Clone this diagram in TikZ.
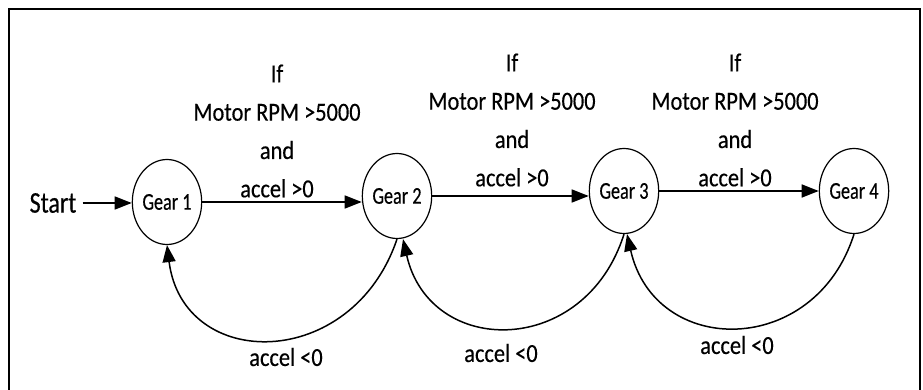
\documentclass[tikz,border=0pt]{standalone}
\usepackage{fontspec}
\setmainfont{Carlito}
\newfontfamily\labfont{Carlito}[FakeStretch=0.86,FakeBold=0.4]
\newfontfamily\gearfont{Carlito}[FakeStretch=0.76,FakeBold=0.4]
\newfontfamily\startfont{Carlito}[FakeStretch=0.8,FakeBold=0.4]
\usetikzlibrary{arrows.meta,shapes.geometric}
\begin{document}
\begin{tikzpicture}[x=1pt,y=-1pt,
  gear/.style={draw, ellipse, minimum width=61pt, minimum height=85pt, inner sep=0pt, line width=1.2pt, font=\gearfont\fontsize{24}{26}\selectfont},
  lab/.style={align=center, inner sep=0pt, font=\labfont\fontsize{26}{38.3}\selectfont},
  neg/.style={inner sep=0pt, font=\labfont\fontsize{26}{30}\selectfont},
  tr/.style={line width=1.5pt, -{Triangle[length=17pt,width=13pt]}},
  ]
\useasboundingbox (0,0) rectangle (923,390);
\draw[line width=2pt] (9,9) rectangle (920,400);

\node[gear] (g1) at (167,202) {Gear 1};
\node[gear] (g2) at (397,196) {Gear 2};
\node[gear] (g3) at (624,191) {Gear 3};
\node[gear] (g4) at (854,191) {Gear 4};

\node[inner sep=0pt, font=\startfont\fontsize{30}{34}\selectfont] (start) at (53,203) {Start};

\draw[tr] ([xshift=6pt]start.east) -- (start.east -| g1.west);
\draw[tr] (g1.east) -- (g1.east -| g2.west);
\draw[tr] (g2.east) -- (g2.east -| g3.west);
\draw[tr] (g3.east) -- (g4.west);

\draw[tr] (g2.south) .. controls (352,372) and (183,372) .. (g1.south);
\draw[tr] (g3.south) .. controls (585,358) and (430,358) .. ([xshift=6pt]g2.south);
\draw[tr] (g4.south) .. controls (815,358) and (655,358) .. ([xshift=3pt]g3.south);

\node[lab] (c1) at (277,131) {If\\Motor RPM >5000\\and\\accel >0};
\node[lab] (c2) at (512,120) {If\\Motor RPM >5000\\and\\accel >0};
\node[lab] (c3) at (735,120) {If\\Motor RPM >5000\\and\\accel >0};

\node[neg] (n1) at (286,357) {accel <0};
\node[neg] (n2) at (501,353) {accel <0};
\node[neg] (n3) at (737,345) {accel <0};
\end{tikzpicture}
\end{document}
